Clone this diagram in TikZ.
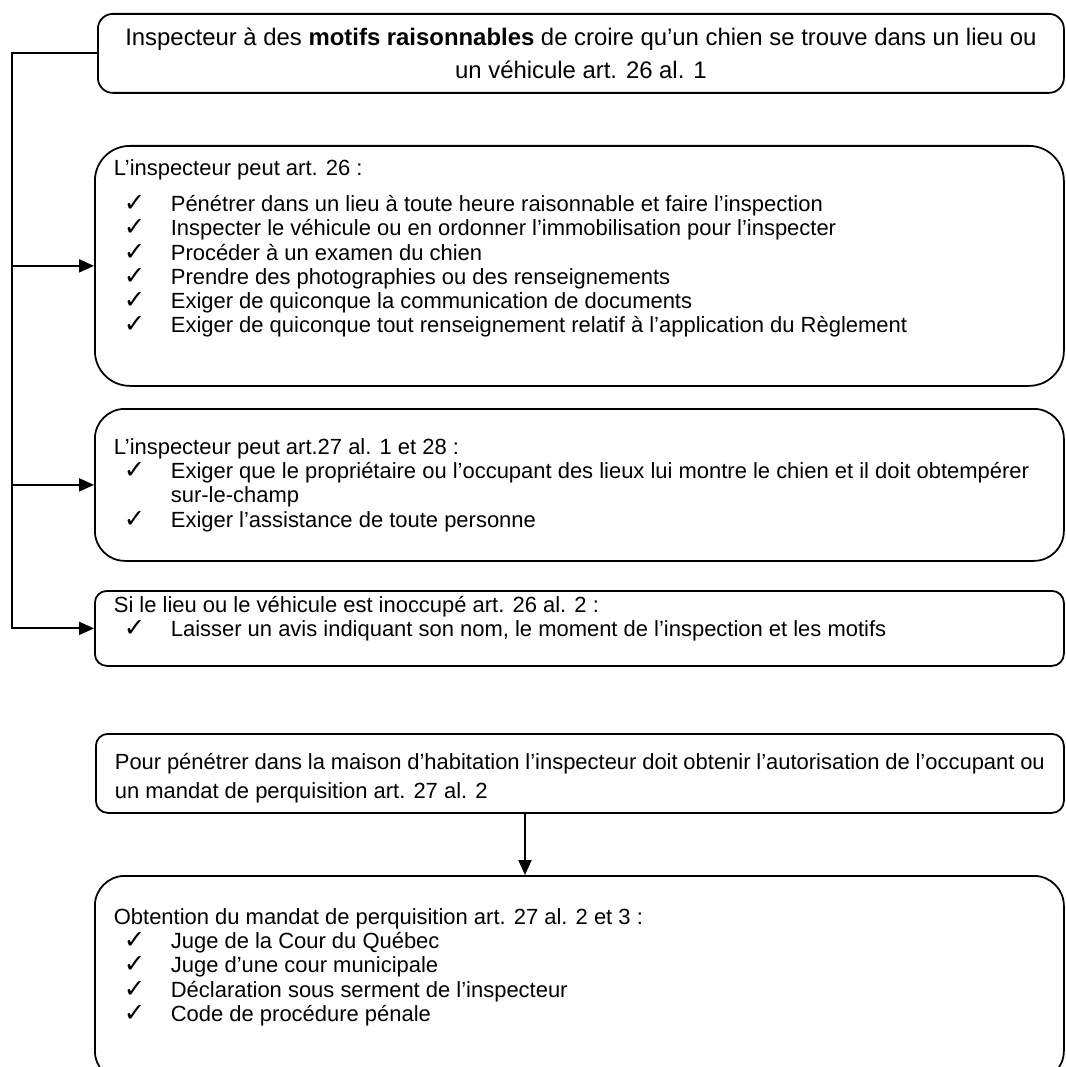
\documentclass[tikz,border=0pt]{standalone}
\usepackage{fontspec}
\setmainfont{Liberation Sans}
\newfontfamily\coch{DejaVu Sans}
\usepackage{tikz}
\usetikzlibrary{arrows.meta,calc}

\newlength{\pix}\setlength{\pix}{0.02cm}
\newcommand{\coche}[1]{\par\hangindent=57\pix\hangafter=1\noindent\hspace*{10\pix}\makebox[47\pix][l]{\smash{\fontsize{14.5}{14.5}\coch ✓}}#1}

\begin{document}
\begin{tikzpicture}[x=0.02cm,y=-0.02cm,font=\fontsize{12.5}{13.7}\selectfont,
	boite/.style={draw,line width=1pt,anchor=north west,inner xsep=19\pix,inner ysep=0pt},
	fleche/.style={-{Triangle[length=8.5pt,width=7.4pt]},line width=1.1pt}]
	\useasboundingbox (0,0) rectangle (1065,1067);
	\node[boite,rounded corners=15\pix,inner xsep=0pt](b1) at (97,13) {\parbox[c][79\pix][c]{966\pix}{\centering\fontsize{13.6}{18.7}\selectfont Inspecteur à des \textbf{motifs raisonnables} de croire qu’un chien se trouve dans un lieu ou\\un véhicule art. 26 al. 1}};
	\node[boite,rounded corners=35\pix](b2) at (94,145) {\parbox[c][240\pix][t]{931\pix}{\vspace*{14\pix}L’inspecteur peut art. 26 :\par\vspace{12\pix}
		\coche{Pénétrer dans un lieu à toute heure raisonnable et faire l’inspection}
		\coche{Inspecter le véhicule ou en ordonner l’immobilisation pour l’inspecter}
		\coche{Procéder à un examen du chien}
		\coche{Prendre des photographies ou des renseignements}
		\coche{Exiger de quiconque la communication de documents}
		\coche{Exiger de quiconque tout renseignement relatif à l’application du Règlement}}};
	\node[boite,rounded corners=30\pix](b3) at (94,408) {\parbox[c][152\pix][t]{931\pix}{\vspace*{30\pix}L’inspecteur peut art.27 al. 1 et 28 :
		\coche{Exiger que le propriétaire ou l’occupant des lieux lui montre le chien et il doit obtempérer\newline sur-le-champ}
		\coche{Exiger l’assistance de toute personne}}};
	\node[boite,rounded corners=12\pix](b4) at (94,590) {\parbox[c][75\pix][t]{931\pix}{\vspace*{5\pix}Si le lieu ou le véhicule est inoccupé art. 26 al. 2 :
		\coche{Laisser un avis indiquant son nom, le moment de l’inspection et les motifs}}};
	\node[boite,rounded corners=12\pix](b5) at (95,733) {\parbox[c][79\pix][t]{930\pix}{\fontsize{12.5}{17}\selectfont\vspace*{19\pix}Pour pénétrer dans la maison d’habitation l’inspecteur doit obtenir l’autorisation de l’occupant ou\newline un mandat de perquisition art. 27 al. 2}};
	\node[boite,rounded corners=30\pix](b6) at (94,875) {\parbox[c][205\pix][t]{931\pix}{\vspace*{33\pix}Obtention du mandat de perquisition art. 27 al. 2 et 3 :
		\coche{Juge de la Cour du Québec}
		\coche{Juge d’une cour municipale}
		\coche{Déclaration sous serment de l’inspecteur}
		\coche{Code de procédure pénale}}};
	% rail a gauche
	\coordinate (rail) at (12,0);
	\coordinate (fl) at (525,0);
	\draw[fleche] (b1.west) -- (b1.west -| rail) -- (b4.west -| rail) -- (b4.west);
	\draw[fleche] (b2.west -| rail) -- (b2.west);
	\draw[fleche] (b3.west -| rail) -- (b3.west);
	\draw[fleche] (b5.south -| fl) -- (b6.north -| fl);
\end{tikzpicture}
\end{document}
